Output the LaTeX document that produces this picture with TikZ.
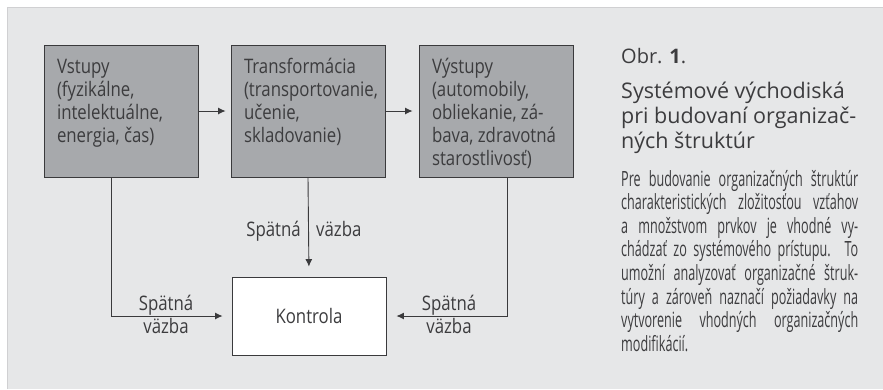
\documentclass[tikz,border=0pt]{standalone}
\usepackage{fontspec}
\setmainfont{Open Sans}
\newfontfamily\boxfont{Open Sans}[FakeStretch=0.84]
\newfontfamily\bodyfont{Open Sans}[FakeStretch=0.6]
\usetikzlibrary{arrows.meta}
\definecolor{panel}{HTML}{E6E7E8}
\definecolor{paneledge}{HTML}{D0D0D2}
\definecolor{stage}{HTML}{A7A9AC}
\definecolor{ink}{HTML}{3C3C3E}
\definecolor{rule}{HTML}{3A3A3C}
\tikzset{
  stagebox/.style={draw=rule, line width=0.9pt, fill=stage, inner sep=0pt,
    minimum width=154pt, minimum height=132pt, text=ink, font=\boxfont\fontsize{20}{23}\selectfont},
  ctlbox/.style={draw=rule, line width=0.9pt, fill=white, minimum width=154pt, minimum height=78pt,
    text=ink, font=\boxfont\fontsize{20}{23}\selectfont},
  flow/.style={draw=rule, line width=0.9pt, -{Latex[length=7.5pt,width=7pt]}},
  lbl/.style={text=ink, inner sep=0pt, font=\boxfont\fontsize{20}{23}\selectfont},
}
% text block of a stage box: 13pt left margin, first baseline 28pt below the top edge
\newcommand{\stagetext}[1]{\parbox[c][132pt][t]{154pt}{%
  \parindent=0pt\leftskip=13pt\rightskip=0pt plus 1fil\rule{0pt}{28pt}#1}}
\newcommand{\bodyline}[1]{\makebox[237pt][s]{#1}\\}
\begin{document}
\begin{tikzpicture}[x=1pt,y=-1pt]
  % page and panel
  \useasboundingbox (0,0) rectangle (883,389);
  \fill[white] (0,0) rectangle (883,389);
  \fill[panel] (7,7) rectangle (883,389);
  \draw[paneledge, line width=1pt] (7,389) -- (7,7) -- (883,7);

  % process chain
  \node[stagebox] (in)  at (121,111) {\stagetext{Vstupy\\(fyzikálne,\\intelektuálne,\\energia, čas)}};
  \node[stagebox] (tr)  at (308,111) {\stagetext{Transformácia\\(transportovanie,\\učenie,\\skladovanie)}};
  \node[stagebox] (out) at (496,111) {\stagetext{Výstupy\\(automobily,\\obliekanie, zá-\\bava, zdravotná\\starostlivosť)}};
  \node[ctlbox]   (ctl) at (309,316) {Kontrola};

  \draw[flow, shorten >=5pt] (in.east) -- (tr.west);
  \draw[flow, shorten >=6pt] (tr.east) -- (out.west);

  % feedback loops
  \draw[flow, shorten >=10pt] (tr.south) -- (ctl.north);
  \draw[flow, shorten >=9pt] ([xshift=-10pt]in.south) |- (ctl.west);
  \draw[flow, shorten >=10pt] ([xshift=11pt]out.south) |- (ctl.east);

  \node[lbl, anchor=base east] (fbm1) at (301,236) {Spätná};
  \node[lbl, anchor=base west] (fbm2) at (316,236) {väzba};
  \node[lbl, anchor=base] (fbl1) at (166,310) {Spätná};
  \node[lbl, anchor=base] (fbl2) at (166,333) {väzba};
  \node[lbl, anchor=base] (fbr1) at (449,310) {Spätná};
  \node[lbl, anchor=base] (fbr2) at (449,333) {väzba};

  % caption
  \node[lbl, anchor=base west, font=\fontsize{20}{23}\selectfont] (obr) at (621,63) {Obr. {\bfseries 1}.};
  \node[lbl, anchor=base west, font=\fontsize{21.5}{25}\selectfont] (title) at (621,98)
    {\parbox[t]{260pt}{Systémové východiská\\pri budovaní organizač-\\ných štruktúr}};
  \node[lbl, anchor=base west, font=\bodyfont\fontsize{21}{23.6}\selectfont] (body) at (621,186)
    {\parbox[t]{237pt}{\bodyline{Pre budovanie organizačných štruktúr}%
      \bodyline{charakteristických zložitosťou vzťahov}%
      \bodyline{a množstvom prvkov je vhodné vy-}%
      \bodyline{chádzať zo systémového prístupu. To}%
      \bodyline{umožní analyzovať organizačné štruk-}%
      \bodyline{túry a zároveň naznačí požiadavky na}%
      \bodyline{vytvorenie vhodných organizačných}%
      modifikácií.}};
\end{tikzpicture}
\end{document}
